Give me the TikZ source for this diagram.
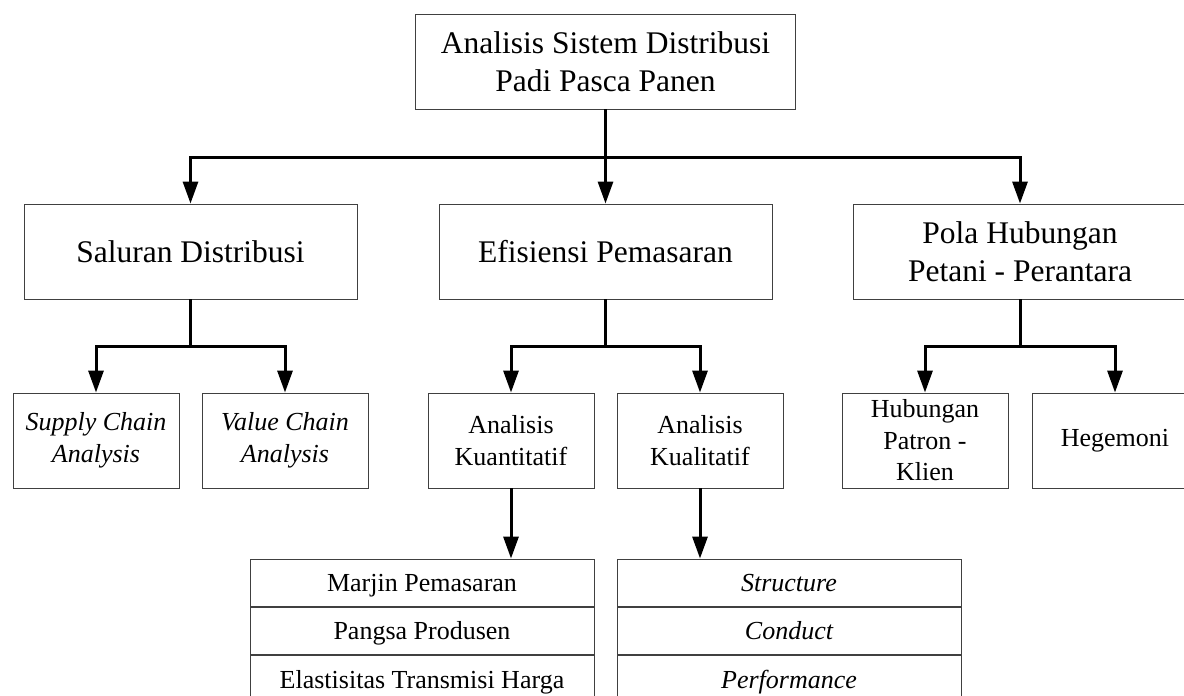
\documentclass[tikz,border=0pt]{standalone}
\usepackage{fontspec}
\setmainfont{Liberation Serif}
\usetikzlibrary{arrows.meta, positioning}
\newcommand{\bigsize}{\fontsize{31.5}{37.5}\selectfont}
\newcommand{\smallsize}{\fontsize{26}{31.5}\selectfont}
\tikzset{
    box/.style={draw=black!75, line width=0.9pt, inner sep=0pt, align=center},
    bigbox/.style={box, minimum height=95pt, font=\bigsize},
    smallbox/.style={box, minimum width=166pt, minimum height=95pt, font=\smallsize},
    rowbox/.style={box, minimum width=344pt, minimum height=47.5pt, text height=23pt, text depth=5.5pt, font=\smallsize},
    link/.style={line width=3pt, -{Triangle[length=22pt, width=15pt]}}}

\begin{document}
\begin{tikzpicture}[x=1pt, y=-1pt]

    \useasboundingbox (0,0) rectangle (1184,696);
    \clip (0,0) rectangle (1184,696);

    \node[bigbox, minimum width=380pt] (sistem) at (605.5,61.5) {Analisis Sistem Distribusi\\Padi Pasca Panen};
    \node[bigbox, minimum width=333pt] (saluran) at (190.5,251.5) {Saluran Distribusi};
    \node[bigbox, minimum width=333pt] (efisiensi) at (605.5,251.5) {Efisiensi Pemasaran};
    \node[bigbox, minimum width=333pt] (pola) at (1020,251.5) {Pola Hubungan\\Petani - Perantara};

    \node[smallbox, font=\smallsize\itshape] (supply) at (96,440.5) {Supply Chain\\Analysis};
    \node[smallbox, font=\smallsize\itshape] (value) at (285,440.5) {Value Chain\\Analysis};
    \node[smallbox] (kuanti) at (511,440.5) {Analisis\\Kuantitatif};
    \node[smallbox] (kuali) at (700,440.5) {Analisis\\Kualitatif};
    \node[smallbox] (patron) at (925,440.5) {Hubungan\\Patron -\\Klien};
    \node[smallbox] (hegemoni) at (1115,440.5) {Hegemoni};

    \node[rowbox] (marjin) at (422,582.75) {Marjin Pemasaran};
    \node[rowbox, below=0pt of marjin] (pangsa) {Pangsa Produsen};
    \node[rowbox, below=0pt of pangsa] (elastis) {Elastisitas Transmisi Harga};
    \node[rowbox, font=\smallsize\itshape] (structure) at (789,582.75) {Structure};
    \node[rowbox, font=\smallsize\itshape, below=0pt of structure] (conduct) {Conduct};
    \node[rowbox, font=\smallsize\itshape, below=0pt of conduct] (perform) {Performance};

    \draw[link] (sistem.south) -- ++(0,48) -| (saluran.north);
    \draw[link] (sistem.south) -- (efisiensi.north);
    \draw[link] (sistem.south) -- ++(0,48) -| (pola.north);

    \draw[link] (saluran.south) -- ++(0,47) -| (supply.north);
    \draw[link] (saluran.south) -- ++(0,47) -| (value.north);
    \draw[link] (efisiensi.south) -- ++(0,47) -| (kuanti.north);
    \draw[link] (efisiensi.south) -- ++(0,47) -| (kuali.north);
    \draw[link] (pola.south) -- ++(0,47) -| (patron.north);
    \draw[link] (pola.south) -- ++(0,47) -| (hegemoni.north);

    \draw[link] (kuanti.south) -- (kuanti.south |- marjin.north);
    \draw[link] (kuali.south) -- (kuali.south |- structure.north);

\end{tikzpicture}
\end{document}
